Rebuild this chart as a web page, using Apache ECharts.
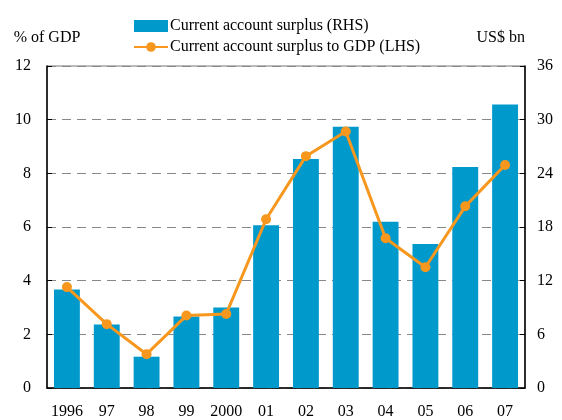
<!DOCTYPE html>
<html>
<head>
<meta charset="utf-8">
<script src="https://cdn.jsdelivr.net/npm/echarts@6/dist/echarts.min.js"></script>
<style>
  html, body { margin: 0; padding: 0; background: #fff; }
  #chart { width: 562px; height: 420px; }
</style>
</head>
<body>
<div id="chart"></div>
<script>
const years = ["1996", "97", "98", "99", "2000", "01", "02", "03", "04", "05", "06", "07"]
// US$ bn, right axis
const surplus = [11.0, 7.1, 3.5, 8.0, 9.0, 18.2, 25.6, 29.2, 18.6, 16.1, 24.7, 31.7]
// % of GDP, left axis
const surplusToGdp = [3.76, 2.38, 1.26, 2.70, 2.76, 6.29, 8.64, 9.56, 5.58, 4.50, 6.77, 8.31]

const font = "Liberation Serif"
const chart = echarts.init(document.getElementById("chart"))

chart.setOption({
  animation: false,
  textStyle: { fontFamily: font, color: "#000" },
  grid: { left: 47, right: 37, top: 66, bottom: 32, show: true, borderColor: "#777", borderWidth: 1 },
  legend: {
    orient: "vertical",
    left: 128,
    top: 13,
    itemWidth: 34,
    itemHeight: 12,
    itemGap: 5,
    textStyle: { fontFamily: font, fontSize: 16, color: "#000", padding: [0, 0, 0, -3] },
    data: [
      { name: "Current account surplus (RHS)", icon: "rect" },
      { name: "Current account surplus to GDP (LHS)" }
    ]
  },
  xAxis: {
    type: "category",
    data: years,
    axisLine: { lineStyle: { color: "#000", width: 1.5 } },
    axisTick: { inside: true, length: 5, lineStyle: { color: "#000" } },
    axisLabel: { interval: 0, hideOverlap: false, fontFamily: font, fontSize: 16, color: "#000", margin: 16 }
  },
  yAxis: [
    {
      type: "value",
      min: 0, max: 12, interval: 2,
      name: "% of GDP",
      nameLocation: "end",
      nameGap: 20,
      nameTextStyle: { fontFamily: font, fontSize: 16, color: "#000" },
      axisLine: { show: true, lineStyle: { color: "#000", width: 1.5 } },
      axisTick: { show: true, inside: true, length: 5, lineStyle: { color: "#000" } },
      axisLabel: { fontFamily: font, fontSize: 16, color: "#000", margin: 16 },
      splitLine: { show: true, lineStyle: { color: "#888", type: [9, 6], width: 1 } }
    },
    {
      type: "value",
      min: 0, max: 36, interval: 6,
      name: "US$ bn",
      nameLocation: "end",
      nameGap: 20,
      nameTextStyle: { fontFamily: font, fontSize: 16, color: "#000", align: "right" },
      axisLine: { show: true, lineStyle: { color: "#000", width: 1.5 } },
      axisTick: { show: true, inside: true, length: 5, lineStyle: { color: "#000" } },
      axisLabel: { fontFamily: font, fontSize: 16, color: "#000", margin: 12 },
      splitLine: { show: false }
    }
  ],
  series: [
    {
      name: "Current account surplus (RHS)",
      type: "bar",
      yAxisIndex: 1,
      barWidth: "65%",
      itemStyle: { color: "#0099CC" },
      data: surplus
    },
    {
      name: "Current account surplus to GDP (LHS)",
      type: "line",
      yAxisIndex: 0,
      symbol: "circle",
      symbolSize: 10,
      lineStyle: { color: "#F7971D", width: 3 },
      itemStyle: { color: "#F7971D" },
      data: surplusToGdp
    }
  ]
})
</script>
</body>
</html>
